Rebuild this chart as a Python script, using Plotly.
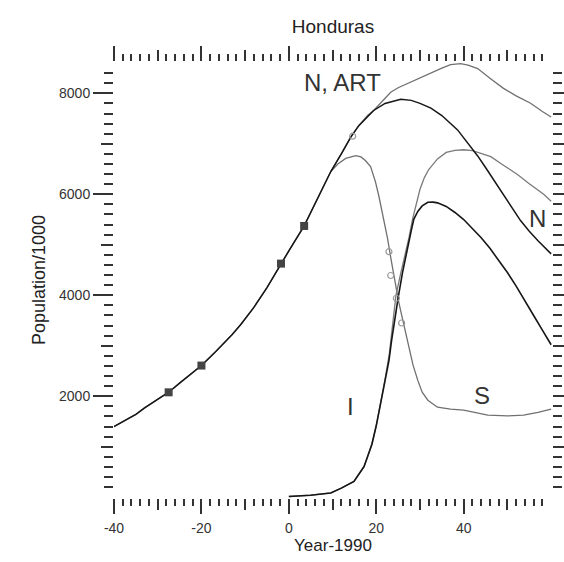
import plotly.graph_objects as go

# ---------------- data ----------------
# N, ART  (total population with ART, grey)
x_nart = [-40, -38, -35, -33, -30, -27.5, -25, -22, -20, -17, -15, -13, -11, -8, -5, -1.8, 0, 3.5,
          5.7, 8, 9.6, 12, 14.2, 16, 18, 19.4, 21, 23.3, 25, 27.2, 30, 32.5, 35, 37, 39.3, 41, 43.2,
          46, 49.1, 52, 55.3, 58, 60]
y_nart = [1400, 1490, 1640, 1770, 1930, 2080, 2260, 2460, 2610, 2860, 3030, 3220, 3420, 3760, 4150,
          4627, 4880, 5373, 5765, 6150, 6451, 6800, 7137, 7360, 7560, 7660, 7804, 8020, 8110, 8196,
          8310, 8412, 8500, 8569, 8588, 8560, 8490, 8300, 8098, 7950, 7804, 7640, 7530]

# N  (total population, black)
x_n = [-40, -38, -35, -33, -30, -27.5, -25, -22, -20, -17, -15, -13, -11, -8, -5, -1.8, 0, 3.5,
       5.7, 8, 9.6, 12, 14.2, 16, 18, 19.4, 22, 25.6, 28, 30, 32.5, 35, 38.6, 41, 43.2, 45, 47,
       49, 51, 53, 55, 57, 60]
y_n = [1400, 1490, 1640, 1770, 1930, 2080, 2260, 2460, 2610, 2860, 3030, 3220, 3420, 3760, 4150,
       4627, 4880, 5373, 5765, 6150, 6451, 6800, 7137, 7360, 7540, 7660, 7800, 7882, 7860, 7800,
       7706, 7560, 7275, 7010, 6760, 6530, 6270, 6000, 5730, 5480, 5270, 5080, 4820]

# S  (susceptibles, grey)
x_s = [9.6, 11.2, 13, 15.3, 16.5, 17.5, 18.7, 19.8, 20.6, 21.6, 22.6, 23.4, 24, 25.1, 25.6, 26.5,
       27.4, 28.4, 29.5, 30.5, 31.8, 34, 37, 40, 45.5, 50, 53.7, 57, 60]
y_s = [6451, 6600, 6710, 6765, 6740, 6670, 6549, 6250, 5961, 5550, 5118, 4700, 4392, 3882, 3686,
       3320, 2961, 2620, 2314, 2080, 1922, 1784, 1745, 1725, 1627, 1610, 1627, 1680, 1745]

# I + treated (grey)
x_it = [0, 5, 9.6, 12, 14.9, 16, 17.2, 18, 19, 20, 21, 22, 23, 24, 24.5, 25.5, 26.5, 27.5, 28.3,
        29, 30, 31, 32, 34, 36, 38, 40, 42, 44, 46.2, 49, 52.3, 55, 58.3, 60]
y_it = [15, 40, 85, 180, 314, 450, 608, 800, 1050, 1420, 1870, 2330, 2850, 3550, 4000, 4400, 4760,
        5150, 5510, 5750, 6100, 6330, 6490, 6700, 6830, 6870, 6882, 6863, 6810, 6745, 6580, 6392,
        6210, 6000, 5863]

# I  (infected, black)
x_i = [0, 5, 9.6, 12, 14.9, 16, 17.2, 18, 19, 20, 21, 22, 22.9, 23.5, 24, 24.5, 25, 26, 27, 28,
       28.6, 29.5, 30.5, 31.8, 33, 34, 36, 38, 40, 42, 44, 46, 48, 50, 52, 54, 56, 58, 60]
y_i = [15, 40, 85, 180, 314, 450, 608, 800, 1050, 1420, 1850, 2270, 2706, 3100, 3412, 3686, 3950,
       4450, 4900, 5280, 5510, 5660, 5770, 5843, 5845, 5830, 5760, 5640, 5500, 5330, 5140, 4930,
       4700, 4450, 4180, 3900, 3600, 3310, 3020]

# observed population (squares)
x_obs = [-27.5, -20, -1.8, 3.5]
y_obs = [2078, 2608, 4627, 5373]

# small grey symbols
x_sym = [14.6, 22.9, 23.3, 24.6, 25.8]
y_sym = [7150, 4863, 4392, 3941, 3451]

# labels
lab_text = ["N, ART", "N", "I", "S"]
lab_x = [12.3, 56.9, 14.2, 44.1]
lab_y = [8216, 5529, 1804, 2020]

x_major = [-40, -20, 0, 20, 40]
x_mid = [-40, -30, -20, -10, 0, 10, 20, 30, 40, 50]
y_major = [2000, 4000, 6000, 8000]
y_mid = [1000, 2000, 3000, 4000, 5000, 6000, 7000, 8000]

# ---------------- figure ----------------
FONT = "Liberation Sans, Arial, sans-serif"
GREY = "#707070"
BLACK = "#161616"
TICK = "#333333"

x_minor = [v for v in range(-38, 60, 2) if v % 10 != 0]
y_minor = [v for v in range(200, 8600, 200) if v % 1000 != 0]

fig = go.Figure()

def line(x, y, color, width):
    fig.add_trace(go.Scatter(x=x, y=y, mode="lines", line=dict(color=color, width=width),
                             showlegend=False, hoverinfo="skip"))

line(x_nart, y_nart, GREY, 1.3)
line(x_s, y_s, GREY, 1.3)
line(x_it, y_it, "#7a7a7a", 1.3)
line(x_n, y_n, BLACK, 1.5)
line(x_i, y_i, BLACK, 1.6)

fig.add_trace(go.Scatter(x=x_obs, y=y_obs, mode="markers",
                         marker=dict(symbol="square", size=8, color="#444444"),
                         showlegend=False, hoverinfo="skip"))
fig.add_trace(go.Scatter(x=x_sym, y=y_sym, mode="markers",
                         marker=dict(symbol="circle-open", size=6, color="#9a9a9a",
                                     line=dict(width=1.2)),
                         showlegend=False, hoverinfo="skip"))
# dummy trace for the overlay axes (long major ticks)
fig.add_trace(go.Scatter(x=[None], y=[None], xaxis="x2", yaxis="y2", showlegend=False,
                         hoverinfo="skip"))

for t, xx, yy in zip(lab_text, lab_x, lab_y):
    fig.add_annotation(x=xx, y=yy, text=t, showarrow=False,
                       font=dict(family=FONT, size=24, color="#333333"),
                       xanchor="center", yanchor="middle")

XR = [-40, 60.2]
YR = [-15, 8620]

x_text = [str(v) if v in x_major else "" for v in x_mid]
y_text = [str(v) if v in y_major else "" for v in y_mid]

fig.update_layout(
    width=564, height=562, autosize=False,
    margin=dict(l=114, r=12, t=62, b=60),
    paper_bgcolor="white", plot_bgcolor="white",
    title=dict(text="Honduras", x=333 / 564, xanchor="center", y=1 - 26.5 / 562,
               yanchor="middle", font=dict(family=FONT, size=19, color="#222222")),
    xaxis=dict(range=XR, showline=False, showgrid=False, zeroline=False,
               tickmode="array", tickvals=x_mid, ticktext=x_text,
               ticks="outside", ticklen=11, tickwidth=1.5, tickcolor=TICK, mirror="ticks",
               minor=dict(tickmode="array", tickvals=x_minor, ticks="outside", ticklen=7,
                          tickwidth=1.5, tickcolor=TICK, showgrid=False),
               tickfont=dict(family=FONT, size=14, color="#333333"),
               ticklabelstandoff=6,
               title=dict(text="Year-1990", font=dict(family=FONT, size=17, color="#222222"),
                          standoff=2)),
    xaxis2=dict(range=XR, overlaying="x", anchor="y2", side="bottom",
                showline=False, showgrid=False, zeroline=False,
                tickmode="array", tickvals=x_major, showticklabels=False,
                ticks="outside", ticklen=15, tickwidth=1.5, tickcolor=TICK, mirror="ticks"),
    yaxis=dict(range=YR, showline=False, showgrid=False, zeroline=False,
               tickmode="array", tickvals=y_mid, ticktext=y_text,
               ticks="outside", ticklen=12, tickwidth=1.5, tickcolor=TICK, mirror="ticks",
               minor=dict(tickmode="array", tickvals=y_minor, ticks="outside", ticklen=9,
                          tickwidth=1.5, tickcolor=TICK, showgrid=False),
               tickfont=dict(family=FONT, size=14, color="#333333"),
               ticklabelstandoff=8,
               title=dict(text="Population/1000", font=dict(family=FONT, size=18, color="#222222"),
                          standoff=8)),
    yaxis2=dict(range=YR, overlaying="y", anchor="x2", side="left",
                showline=False, showgrid=False, zeroline=False,
                tickmode="array", tickvals=y_major, showticklabels=False,
                ticks="outside", ticklen=20, tickwidth=1.5, tickcolor=TICK, mirror="ticks"),
)

fig.write_html("out.html", config={"displayModeBar": False},
               post_script="document.body.style.margin='0';")
